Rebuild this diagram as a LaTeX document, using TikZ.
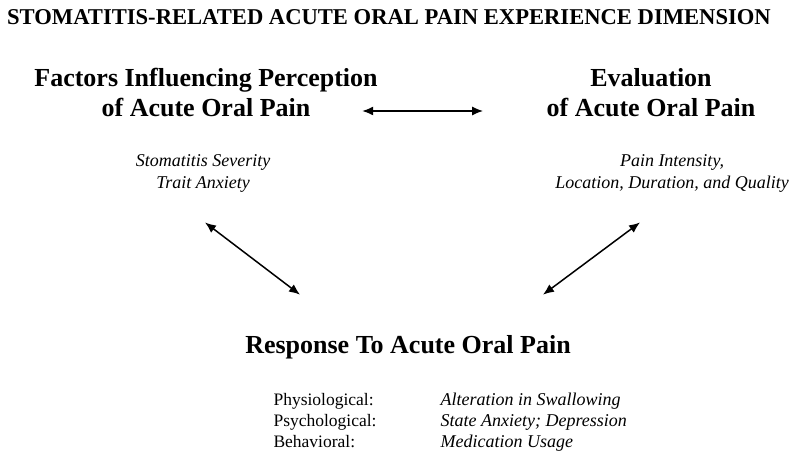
\documentclass[tikz,border=0pt]{standalone}
\usepackage{fontspec}
\setmainfont{Liberation Serif}
\usetikzlibrary{arrows.meta}

\begin{document}
\begin{tikzpicture}[%
  x=1pt, y=1pt,
  toptitle/.style={font=\fontsize{22.6}{26}\selectfont\bfseries},
  dimhead/.style={align=center, font=\fontsize{26}{30}\selectfont\bfseries},
  dimitems/.style={align=center, font=\fontsize{18}{22}\selectfont\itshape},
  rowlabel/.style={anchor=west, text height=12pt, text depth=4pt, font=\fontsize{17.5}{21}\selectfont},
  rowvalue/.style={rowlabel, font=\fontsize{18}{21}\selectfont\itshape},
  link/.style={{Latex[length=11pt,width=9pt]}-{Latex[length=11pt,width=9pt]}, line width=1.5pt}]
\useasboundingbox (0,0) rectangle (800,460);
\node[toptitle] (title) at (389,443) {STOMATITIS-RELATED ACUTE ORAL PAIN EXPERIENCE DIMENSION};
% the three parts of the experience
\node[dimhead] (factors) at (206,367) {Factors Influencing Perception\\of Acute Oral Pain};
\node[dimhead] (evaluation) at (651,367) {Evaluation\\of Acute Oral Pain};
\node[dimhead] (response) at (408,113) {Response To Acute Oral Pain};
\node[dimitems] (factorsitems) at (203,287) {Stomatitis Severity\\Trait Anxiety};
\node[dimitems] (evalitems) at (672,287) {Pain Intensity,\\Location, Duration, and Quality};
% responses
\node[rowlabel] (phys) at (270,58) {Physiological:};
\node[rowlabel] (psych) at (270,37) {Psychological:};
\node[rowlabel] (behav) at (270,16) {Behavioral:};
\node[rowvalue] (physval) at (437,58) {Alteration in Swallowing};
\node[rowvalue] (psychval) at (437,37) {State Anxiety; Depression};
\node[rowvalue] (behavval) at (437,16) {Medication Usage};
% links
\draw[link] ([xshift=-19pt,yshift=-18pt]factors.east) -- ([xshift=-60pt,yshift=-18pt]evaluation.west);
\draw[link] ([xshift=2pt,yshift=-27pt]factorsitems.south) -- ([xshift=-108pt,yshift=37pt]response.north);
\draw[link] ([xshift=-32pt,yshift=-27pt]evalitems.south) -- ([xshift=135pt,yshift=37pt]response.north);
\end{tikzpicture}
\end{document}
